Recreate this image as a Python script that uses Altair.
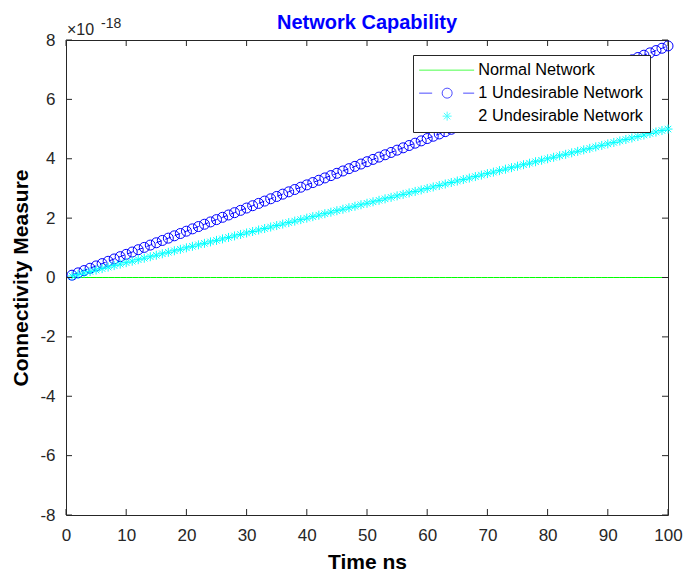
import altair as alt
import pandas as pd

# ---------------- data (values in units of 1e-18) ----------------
time_ns = [1, 2, 3, 4, 5, 6, 7, 8, 9, 10,
           11, 12, 13, 14, 15, 16, 17, 18, 19, 20,
           21, 22, 23, 24, 25, 26, 27, 28, 29, 30,
           31, 32, 33, 34, 35, 36, 37, 38, 39, 40,
           41, 42, 43, 44, 45, 46, 47, 48, 49, 50,
           51, 52, 53, 54, 55, 56, 57, 58, 59, 60,
           61, 62, 63, 64, 65, 66, 67, 68, 69, 70,
           71, 72, 73, 74, 75, 76, 77, 78, 79, 80,
           81, 82, 83, 84, 85, 86, 87, 88, 89, 90,
           91, 92, 93, 94, 95, 96, 97, 98, 99, 100]

normal_network = [0.0] * 100

undesirable_1 = [0.078, 0.156, 0.234, 0.312, 0.390, 0.468, 0.546, 0.624, 0.702, 0.780,
                 0.858, 0.936, 1.014, 1.092, 1.170, 1.248, 1.326, 1.404, 1.482, 1.560,
                 1.638, 1.716, 1.794, 1.872, 1.950, 2.028, 2.106, 2.184, 2.262, 2.340,
                 2.418, 2.496, 2.574, 2.652, 2.730, 2.808, 2.886, 2.964, 3.042, 3.120,
                 3.198, 3.276, 3.354, 3.432, 3.510, 3.588, 3.666, 3.744, 3.822, 3.900,
                 3.978, 4.056, 4.134, 4.212, 4.290, 4.368, 4.446, 4.524, 4.602, 4.680,
                 4.758, 4.836, 4.914, 4.992, 5.070, 5.148, 5.226, 5.304, 5.382, 5.460,
                 5.538, 5.616, 5.694, 5.772, 5.850, 5.928, 6.006, 6.084, 6.162, 6.240,
                 6.318, 6.396, 6.474, 6.552, 6.630, 6.708, 6.786, 6.864, 6.942, 7.020,
                 7.098, 7.176, 7.254, 7.332, 7.410, 7.488, 7.566, 7.644, 7.722, 7.800]

undesirable_2 = [0.05, 0.10, 0.15, 0.20, 0.25, 0.30, 0.35, 0.40, 0.45, 0.50,
                 0.55, 0.60, 0.65, 0.70, 0.75, 0.80, 0.85, 0.90, 0.95, 1.00,
                 1.05, 1.10, 1.15, 1.20, 1.25, 1.30, 1.35, 1.40, 1.45, 1.50,
                 1.55, 1.60, 1.65, 1.70, 1.75, 1.80, 1.85, 1.90, 1.95, 2.00,
                 2.05, 2.10, 2.15, 2.20, 2.25, 2.30, 2.35, 2.40, 2.45, 2.50,
                 2.55, 2.60, 2.65, 2.70, 2.75, 2.80, 2.85, 2.90, 2.95, 3.00,
                 3.05, 3.10, 3.15, 3.20, 3.25, 3.30, 3.35, 3.40, 3.45, 3.50,
                 3.55, 3.60, 3.65, 3.70, 3.75, 3.80, 3.85, 3.90, 3.95, 4.00,
                 4.05, 4.10, 4.15, 4.20, 4.25, 4.30, 4.35, 4.40, 4.45, 4.50,
                 4.55, 4.60, 4.65, 4.70, 4.75, 4.80, 4.85, 4.90, 4.95, 5.00]

series_names = ["Normal Network", "1 Undesirable Network", "2 Undesirable Network"]
series_colors = ["#00ff00", "#0000ff", "#00ffff"]
x_ticks = [0, 10, 20, 30, 40, 50, 60, 70, 80, 90, 100]
y_ticks = [-8, -6, -4, -2, 0, 2, 4, 6, 8]
exponent_base = ["\u00d710"]
exponent_power = ["-18"]

# ---------------- styling ----------------
FONT = "Liberation Sans, Arial, Helvetica, sans-serif"
AX = "#262626"
W, H = 602, 475
TICK = 6

ASTERISK = "M-0.9,0H0.9M0,-0.9V0.9M-0.65,-0.65L0.65,0.65M-0.65,0.65L0.65,-0.65"
legend_paths = [
    "M-5.6,0H5.4",
    "M-5.6,0H-3M-1,0A1,1,0,1,1,1,0A1,1,0,1,1,-1,0M3.2,0H5.4",
    ASTERISK,
]

df_normal = pd.DataFrame({"t": time_ns, "val": normal_network})
df_u1 = pd.DataFrame({"t": time_ns, "val": undesirable_1})
df_u2 = pd.DataFrame({"t": time_ns, "val": undesirable_2})
df_xt = pd.DataFrame({"t": x_ticks})
df_yt = pd.DataFrame({"val": y_ticks})
df_leg = pd.DataFrame({"series": series_names})
df_base = pd.DataFrame({"label": exponent_base})
df_pow = pd.DataFrame({"label": exponent_power})

xs = alt.Scale(domain=[0, 100], nice=False, zero=False)
ys = alt.Scale(domain=[-8, 8], nice=False, zero=False)

x_axis = alt.Axis(
    values=x_ticks, title="Time ns", ticks=False, tickSize=0, domain=False, grid=False,
    labelFont=FONT, labelFontSize=17, labelColor=AX, labelPadding=12, labelFlush=False,
    titleFont=FONT, titleFontSize=21, titleFontWeight="bold", titleColor="#000000",
    titleY=53, titleBaseline="alphabetic",
)
y_axis = alt.Axis(
    values=y_ticks, title="Connectivity Measure", ticks=False, tickSize=0, domain=False,
    grid=False, labelFont=FONT, labelFontSize=17, labelColor=AX, labelPadding=11,
    labelExpr="replace(datum.label, '\u2212', '-')",
    titleFont=FONT, titleFontSize=21, titleFontWeight="bold", titleColor="#000000",
    titleX=-39, titleBaseline="alphabetic",
)

X = alt.X("t:Q", scale=xs, axis=x_axis)
Y = alt.Y("val:Q", scale=ys, axis=y_axis)

normal_line = alt.Chart(df_normal).mark_line(color=series_colors[0], strokeWidth=1).encode(x=X, y=Y)
u1_line = alt.Chart(df_u1).mark_line(color=series_colors[1], strokeWidth=1, strokeDash=[6, 4]).encode(x=X, y=Y)
u1_pts = alt.Chart(df_u1).mark_point(
    shape="circle", filled=False, color=series_colors[1], size=100, strokeWidth=1, opacity=1
).encode(x=X, y=Y)
u2_pts = alt.Chart(df_u2).mark_point(
    shape=ASTERISK, filled=False, color=series_colors[2], size=100, strokeWidth=1, opacity=1
).encode(x=X, y=Y)

tick_bottom = alt.Chart(df_xt).mark_rule(color=AX, strokeWidth=1).encode(
    x=X, y=alt.value(H), y2=alt.value(H - TICK))
tick_top = alt.Chart(df_xt).mark_rule(color=AX, strokeWidth=1).encode(
    x=X, y=alt.value(0), y2=alt.value(TICK))
tick_left = alt.Chart(df_yt).mark_rule(color=AX, strokeWidth=1).encode(
    y=Y, x=alt.value(0), x2=alt.value(TICK))
tick_right = alt.Chart(df_yt).mark_rule(color=AX, strokeWidth=1).encode(
    y=Y, x=alt.value(W), x2=alt.value(W - TICK))

exp_base = alt.Chart(df_base).mark_text(
    align="left", baseline="alphabetic", font=FONT, fontSize=16, color=AX
).encode(text="label:N", x=alt.value(1), y=alt.value(-5))
exp_pow = alt.Chart(df_pow).mark_text(
    align="left", baseline="alphabetic", font=FONT, fontSize=14, color=AX
).encode(text="label:N", x=alt.value(35), y=alt.value(-12))

leg = alt.Legend(
    title=None, orient="none", legendX=347, legendY=15,
    fillColor="white", strokeColor=AX, padding=7, rowPadding=6,
    symbolOffset=19, labelOffset=23, symbolSize=100, symbolStrokeWidth=1,
    symbolFillColor="transparent", labelLimit=400,
    labelFont=FONT, labelFontSize=16.3, labelColor="#000000",
)
legend_layer = alt.Chart(df_leg).transform_filter("false").mark_point(
    filled=False, size=100, strokeWidth=1
).encode(
    color=alt.Color("series:N", scale=alt.Scale(domain=series_names, range=series_colors), legend=leg),
    shape=alt.Shape("series:N", scale=alt.Scale(domain=series_names, range=legend_paths), legend=leg),
)

chart = alt.layer(
    normal_line, u1_line, u1_pts, u2_pts,
    tick_bottom, tick_top, tick_left, tick_right,
    exp_base, exp_pow, legend_layer,
).properties(
    width=W, height=H,
    title=alt.TitleParams(
        "Network Capability", font=FONT, fontSize=20, fontWeight="bold", color="#0000ff",
        anchor="middle", frame="group", baseline="alphabetic", offset=-32,
    ),
    autosize=alt.AutoSizeParams(type="none"),
    padding={"left": 66, "top": 40, "right": 15, "bottom": 57},
    background="white",
).configure_view(stroke=AX, strokeWidth=1)

chart.save("out.html", embed_options={"renderer": "svg", "actions": False})
